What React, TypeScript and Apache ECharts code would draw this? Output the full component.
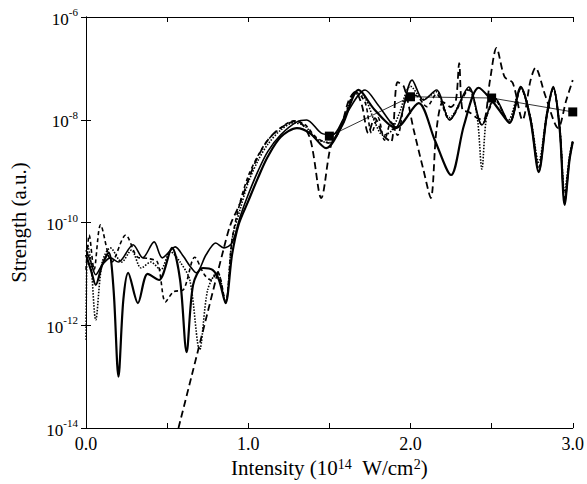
import { useEffect, useRef } from "react";
import * as echarts from "echarts";

const FONT = "'Liberation Serif', 'Times New Roman', serif";

const yTickValues = [1e-14, 1e-12, 1e-10, 1e-8, 1e-6];
const xLabelValues = [0, 1, 2, 3];

// Solid thick curve
const aX = [0, 0.03, 0.06, 0.1, 0.14, 0.17, 0.2, 0.23, 0.26, 0.32, 0.38, 0.45, 0.53, 0.58, 0.62, 0.66, 0.72, 0.78, 0.82, 0.86, 0.9, 0.94, 1.0, 1.06, 1.12, 1.2, 1.3, 1.38, 1.48, 1.58, 1.68, 1.78, 1.91, 2.05, 2.15, 2.25, 2.33, 2.42, 2.5, 2.55, 2.61, 2.68, 2.74, 2.79, 2.84, 2.88, 2.92, 2.95, 2.98, 3.0];
const aY = [2.35e-11, 1.2e-11, 6.1e-12, 1.5e-11, 2.6e-11, 4.9e-12, 1.0e-13, 3.1e-12, 1.05e-11, 2.7e-12, 1.0e-11, 7.6e-12, 3.2e-11, 7.6e-12, 3.0e-13, 6.1e-12, 1.3e-11, 1.2e-11, 7.6e-12, 2.7e-12, 2.35e-11, 9e-11, 2.6e-10, 7.4e-10, 1.9e-9, 4.6e-9, 6.9e-9, 5.5e-9, 2.8e-9, 7.9e-9, 3.8e-8, 1.55e-8, 6.9e-9, 2.1e-8, 4.0e-9, 8.4e-10, 7.9e-9, 4.2e-8, 2.4e-8, 1.5e-8, 8.7e-9, 4.35e-8, 9.9e-9, 9.6e-10, 1.24e-8, 4.35e-8, 6.3e-9, 2.2e-10, 1.65e-9, 3.7e-9];

// Solid thinner curve
const bX = [0, 0.03, 0.06, 0.1, 0.15, 0.2, 0.29, 0.35, 0.42, 0.47, 0.55, 0.6, 0.64, 0.68, 0.74, 0.8, 0.85, 0.9, 0.95, 1.0, 1.06, 1.12, 1.2, 1.3, 1.36, 1.45, 1.52, 1.6, 1.72, 1.8, 1.91, 2.01, 2.08, 2.16, 2.24, 2.36, 2.44, 2.52, 2.61, 2.68, 2.74, 2.79, 2.84, 2.88, 2.92, 2.95, 2.98, 3.0];
const bY = [2.9e-11, 1.7e-11, 9.6e-12, 1.5e-11, 2.05e-11, 1.7e-11, 3.7e-11, 2.05e-11, 4.2e-11, 2.05e-11, 3.35e-11, 2.2e-11, 1.43e-11, 1.05e-11, 2.35e-11, 4.0e-11, 3.2e-11, 4.0e-11, 1.3e-10, 3.5e-10, 1.0e-9, 2.4e-9, 5.1e-9, 9.1e-9, 9.9e-9, 5.5e-9, 5.1e-9, 1.24e-8, 3.8e-8, 1.94e-8, 7.2e-9, 5.9e-8, 2.4e-8, 3.8e-8, 9.9e-9, 4.35e-8, 7.9e-9, 2.65e-8, 8.7e-9, 4.3e-8, 1.0e-8, 1.0e-9, 1.2e-8, 4.3e-8, 6.5e-9, 2.3e-10, 1.7e-9, 3.7e-9];

// Short-dashed curve
const cX = [0, 0.02, 0.05, 0.09, 0.16, 0.245, 0.32, 0.38, 0.44, 0.49, 0.54, 0.6, 0.67, 0.73, 0.77, 0.81, 0.86, 0.9, 0.95, 1.0, 1.06, 1.12, 1.2, 1.28, 1.35, 1.42, 1.5, 1.58, 1.66, 1.72, 1.76, 1.8, 1.84, 1.88, 1.92, 1.97, 2.03, 2.1, 2.16, 2.24, 2.36, 2.44, 2.52, 2.61, 2.68, 2.74, 2.79, 2.84, 2.88, 2.92, 2.95, 2.98, 3.0];
const cY = [1.2e-11, 5.7e-11, 1.2e-11, 9.0e-11, 1.7e-11, 5.7e-11, 2.1e-11, 2.0e-11, 1.7e-11, 2.85e-12, 4.5e-12, 4.9e-12, 2.1e-11, 9.6e-12, 7.6e-12, 1.1e-11, 2.85e-12, 4.6e-11, 2.5e-10, 8.0e-10, 2.0e-9, 4.0e-9, 6.9e-9, 9.5e-9, 8.0e-9, 4.5e-9, 3.5e-9, 8.0e-9, 3.5e-8, 2.2e-8, 5.5e-9, 1.1e-8, 4.0e-9, 9.0e-9, 5.0e-9, 2.4e-8, 3.0e-8, 1.8e-8, 3.2e-8, 1.0e-8, 3.8e-8, 8.0e-9, 2.4e-8, 9.0e-9, 4.0e-8, 1.05e-8, 1.2e-9, 1.2e-8, 4.0e-8, 6.5e-9, 3.0e-10, 1.8e-9, 3.8e-9];

// Long-dashed curve
const dX = [0.57, 0.65, 0.75, 0.85, 0.89, 0.95, 1.0, 1.05, 1.12, 1.2, 1.3, 1.38, 1.45, 1.51, 1.57, 1.62, 1.66, 1.7, 1.74, 1.78, 1.83, 1.88, 1.92, 1.96, 2.02, 2.08, 2.125, 2.16, 2.2, 2.25, 2.28, 2.3, 2.32, 2.36, 2.41, 2.45, 2.49, 2.53, 2.58, 2.63, 2.69, 2.74, 2.77, 2.83, 2.91, 2.96, 3.0];
const dY = [1e-14, 1e-13, 1.8e-12, 3.2e-11, 9e-11, 2.4e-10, 6.7e-10, 1.65e-9, 4.0e-9, 7.0e-9, 9.5e-9, 4.4e-9, 3.0e-10, 3.2e-9, 7.0e-9, 2.4e-8, 3.5e-8, 1.94e-8, 5.5e-9, 1.08e-8, 5.1e-9, 3.7e-9, 5.4e-8, 4.35e-8, 6.3e-9, 1.05e-9, 3.0e-10, 6.3e-9, 2.2e-8, 1.77e-8, 2.4e-8, 1.27e-7, 1.55e-8, 1.42e-8, 1.08e-8, 9.9e-9, 5.9e-8, 2.5e-7, 6.8e-8, 5.2e-8, 9.9e-9, 5.9e-8, 1.02e-7, 3.0e-8, 6.9e-9, 2.4e-8, 5.9e-8];

// Dotted curve
const eX = [0, 0.01, 0.03, 0.06, 0.1, 0.15, 0.22, 0.28, 0.34, 0.4, 0.46, 0.52, 0.58, 0.64, 0.7, 0.75, 0.81, 0.86, 0.9, 0.95, 1.0, 1.06, 1.12, 1.2, 1.28, 1.35, 1.42, 1.5, 1.58, 1.66, 1.72, 1.78, 1.83, 1.88, 1.93, 2.0, 2.08, 2.16, 2.24, 2.36, 2.41, 2.44, 2.47, 2.52, 2.6, 2.68, 2.74, 2.79, 2.84, 2.88, 2.92, 2.95, 2.98, 3.0];
const eY = [5.2e-13, 3.7e-11, 1.7e-11, 1.27e-12, 1.7e-11, 3.2e-11, 1.7e-11, 2.9e-11, 1.3e-11, 1.7e-11, 1.2e-11, 2.7e-11, 1.7e-11, 7.6e-12, 3.3e-13, 4.9e-12, 1.1e-11, 2.7e-12, 4.6e-11, 1.8e-10, 6.0e-10, 1.6e-9, 3.3e-9, 6.3e-9, 8.7e-9, 7.5e-9, 4.2e-9, 3.6e-9, 9.0e-9, 3.2e-8, 2.6e-8, 9.0e-9, 5.0e-9, 6.0e-9, 1.3e-8, 4.5e-8, 2.5e-8, 3.5e-8, 1.1e-8, 4.0e-8, 1.2e-8, 1.1e-9, 1.2e-8, 2.6e-8, 9.5e-9, 4.2e-8, 1.1e-8, 1.5e-9, 1.3e-8, 4.2e-8, 7.0e-9, 4.0e-10, 2.0e-9, 4.0e-9];

// Square markers
const mX = [1.5, 2.0, 2.5, 3.0];
const mY = [4.8e-9, 2.8e-8, 2.65e-8, 1.42e-8];

const pairs = (xs: number[], ys: number[]) => xs.map((x, i) => [x, ys[i]]);

export default function App() {
  const ref = useRef<HTMLDivElement>(null);
  useEffect(() => {
    document.body.style.margin = "0";
    if (!ref.current) return;
    const chart = echarts.init(ref.current, null, { renderer: "svg" });
    const axisLine = { show: true, lineStyle: { color: "#000", width: 1 } };
    const tick = { show: true, inside: true, length: 5, lineStyle: { color: "#000" } };
    const lineSeries = (data: number[][], width: number, type: any, z: number) => ({
      type: "line",
      data,
      showSymbol: false,
      symbol: "none",
      smooth: 0.3,
      clip: true,
      z,
      lineStyle: { color: "#000", width, type },
    });
    chart.setOption({
      animation: false,
      backgroundColor: "#fff",
      textStyle: { fontFamily: FONT },
      grid: { left: 85, right: 12, top: 17, bottom: 56, containLabel: false },
      xAxis: [
        {
          type: "value",
          min: 0,
          max: 3,
          interval: 0.5,
          axisLine,
          splitLine: { show: false },
          axisTick: tick,
          axisLabel: {
            customValues: xLabelValues,
            formatter: (v: number) => v.toFixed(1),
            color: "#000",
            fontFamily: FONT,
            fontSize: 18,
            margin: 7,
          },
          name: "Intensity (10{s|14}  W/cm{s|2})",
          nameLocation: "middle",
          nameGap: 24,
          nameTextStyle: {
            color: "#000",
            fontFamily: FONT,
            fontSize: 21,
            rich: {
              s: { fontSize: 14, fontFamily: FONT, color: "#000", verticalAlign: "top", padding: [0, 0, 0, 0] },
            },
          },
        },
        {
          type: "value",
          position: "top",
          min: 0,
          max: 3,
          interval: 0.5,
          axisLine,
          splitLine: { show: false },
          axisTick: tick,
          axisLabel: { show: false },
        },
      ],
      yAxis: [
        {
          type: "log",
          logBase: 10,
          min: 1e-14,
          max: 1e-6,
          axisLine,
          splitLine: { show: false },
          axisTick: { ...tick, customValues: yTickValues },
          axisLabel: {
            customValues: yTickValues,
            formatter: (v: number) => "{b|10}{s|" + Math.round(Math.log10(v)) + "}",
            margin: 8,
            rich: {
              b: { fontSize: 17, fontFamily: FONT, color: "#000", verticalAlign: "bottom" },
              s: { fontSize: 11, fontFamily: FONT, color: "#000", verticalAlign: "bottom", padding: [0, 0, 10, 0] },
            },
          },
          name: "Strength (a.u.)",
          nameLocation: "middle",
          nameGap: 57,
          nameTextStyle: { color: "#000", fontFamily: FONT, fontSize: 21 },
        },
        {
          type: "log",
          logBase: 10,
          position: "right",
          min: 1e-14,
          max: 1e-6,
          axisLine,
          splitLine: { show: false },
          axisTick: { ...tick, customValues: yTickValues },
          axisLabel: { show: false },
        },
      ],
      series: [
        lineSeries(pairs(eX, eY), 1.6, [1.5, 1.5], 2),
        lineSeries(pairs(cX, cY), 1.6, [4, 3], 3),
        lineSeries(pairs(dX, dY), 1.8, [7, 4], 4),
        lineSeries(pairs(bX, bY), 1.6, "solid", 5),
        lineSeries(pairs(aX, aY), 2.2, "solid", 6),
        {
          type: "line",
          data: pairs(mX, mY),
          symbol: "rect",
          symbolSize: 9,
          showSymbol: true,
          z: 7,
          lineStyle: { color: "#000", width: 0.8 },
          itemStyle: { color: "#000" },
        },
      ],
    });
    return () => chart.dispose();
  }, []);
  return <div ref={ref} style={{ width: 587, height: 484 }} />;
}
